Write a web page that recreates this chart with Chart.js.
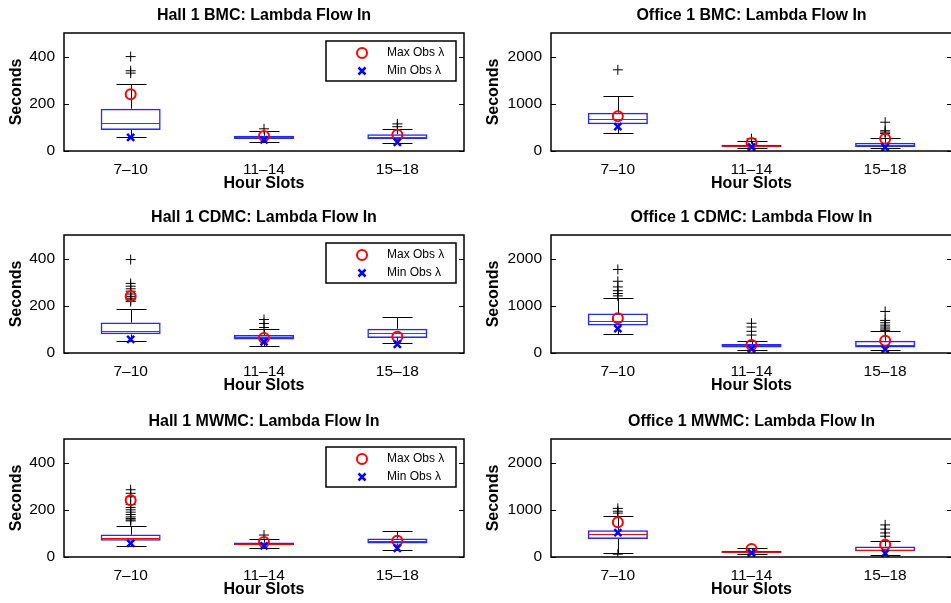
<!DOCTYPE html>
<html><head><meta charset="utf-8">
<script src="https://cdn.jsdelivr.net/npm/chart.js@4/dist/chart.umd.min.js"></script>
<style>
html,body{margin:0;padding:0;background:#fff;width:951px;height:603px;overflow:hidden;position:relative;}
canvas{position:absolute;}
</style></head><body>
<canvas id="c0"></canvas><canvas id="c1"></canvas><canvas id="c2"></canvas>
<canvas id="c3"></canvas><canvas id="c4"></canvas><canvas id="c5"></canvas>
<script>
// ---------------- data ----------------
const categories = ['7–10', '11–14', '15–18'];
const titles = [
  'Hall 1 BMC: Lambda Flow In', 'Office 1 BMC: Lambda Flow In',
  'Hall 1 CDMC: Lambda Flow In', 'Office 1 CDMC: Lambda Flow In',
  'Hall 1 MWMC: Lambda Flow In', 'Office 1 MWMC: Lambda Flow In'
];
const xTitle = 'Hour Slots';
const yTitle = 'Seconds';
const legendLabels = ['Max Obs λ', 'Min Obs λ'];
const hallTicks = [0, 200, 400];
const officeTicks = [0, 1000, 2000];
const hallMax = 500;
const officeMax = 2500;

// box statistics per panel (rows) and hour slot (columns)
const q1 = [
  [89, 51, 50], [567, 84, 84],
  [79, 57, 64], [583, 114, 114],
  [69, 50, 57], [379, 84, 120]
];
const median = [
  [120, 58, 58], [680, 109, 134],
  [95, 66, 85], [682, 162, 168],
  [81, 55, 67], [493, 113, 156]
];
const q3 = [
  [179, 65, 71], [813, 134, 176],
  [129, 76, 103], [836, 189, 261],
  [95, 61, 78], [568, 135, 225]
];
const whiskerLow = [
  [58, 39, 33], [386, 57, 57],
  [50, 28, 42], [408, 72, 63],
  [45, 37, 28], [92, 57, 50]
];
const whiskerHigh = [
  [283, 85, 93], [1155, 204, 273],
  [186, 100, 154], [1172, 261, 463],
  [133, 76, 109], [871, 189, 345]
];
const outliers = [
  [[400, 340, 330], [94], [115, 103]],
  [[1720], [260], [610, 430, 400, 370]],
  [[396, 295, 283, 272, 262, 250, 240, 232, 225, 218], [142, 125, 108], []],
  [[1770, 1520, 1400, 1320, 1260, 1210], [630, 550, 460, 380], [880, 690, 640, 590, 550, 510, 480]],
  [[285, 270, 255, 222, 210, 200, 190, 180, 170, 163, 157, 153], [93], []],
  [[1030, 970, 930, 60], [], [680, 590, 510, 440]]
];
const hallMaxObs = [240, 64, 69];
const hallMinObs = [58, 47, 37];
const officeMaxObs = [737, 170, 262];
const officeMinObs = [518, 86, 78];

// ---------------- rendering ----------------
const FONT = '"Liberation Sans", Arial, Helvetica, sans-serif';
Chart.defaults.font.family = FONT;
Chart.defaults.color = '#000';

const boxExtras = {
  id: 'boxExtras',
  beforeDatasetsDraw(chart, args, opts) {
    const p = opts.panel, ctx = chart.ctx, xs = chart.scales.x, ys = chart.scales.y;
    const meta = chart.getDatasetMeta(0);
    ctx.save();
    ctx.strokeStyle = '#000';
    ctx.lineWidth = 1;
    for (let i = 0; i < categories.length; i++) {
      const x = Math.round(xs.getPixelForValue(i)) + 0.5;
      const bw = meta.data[i].width;
      const cap = bw / 4;
      const yq1 = ys.getPixelForValue(q1[p][i]);
      const yq3 = ys.getPixelForValue(q3[p][i]);
      const ylo = Math.round(ys.getPixelForValue(whiskerLow[p][i])) + 0.5;
      const yhi = Math.round(ys.getPixelForValue(whiskerHigh[p][i])) + 0.5;
      ctx.beginPath();
      ctx.moveTo(x, yq3); ctx.lineTo(x, yhi);
      ctx.moveTo(x, yq1); ctx.lineTo(x, ylo);
      ctx.moveTo(x - cap, yhi); ctx.lineTo(x + cap, yhi);
      ctx.moveTo(x - cap, ylo); ctx.lineTo(x + cap, ylo);
      ctx.stroke();
    }
    ctx.restore();
  },
  afterDatasetDraw(chart, args, opts) {
    if (args.index !== 0) return;
    const p = opts.panel, ctx = chart.ctx, xs = chart.scales.x, ys = chart.scales.y;
    const meta = chart.getDatasetMeta(0);
    ctx.save();
    ctx.strokeStyle = '#ff0000';
    ctx.lineWidth = 1.2;
    for (let i = 0; i < categories.length; i++) {
      const x = xs.getPixelForValue(i);
      const bw = meta.data[i].width;
      const y = Math.round(ys.getPixelForValue(median[p][i])) + 0.5;
      ctx.beginPath();
      ctx.moveTo(x - bw / 2 + 1, y); ctx.lineTo(x + bw / 2 - 1, y);
      ctx.stroke();
    }
    ctx.restore();
  },
  afterDraw(chart, args, opts) {
    const ctx = chart.ctx, ca = chart.chartArea, ys = chart.scales.y;
    ctx.save();
    ctx.strokeStyle = '#000';
    ctx.lineWidth = 1;
    ctx.beginPath();
    ys.ticks.forEach(t => {
      const y = Math.round(ys.getPixelForValue(t.value)) + 0.5;
      ctx.moveTo(ca.left, y); ctx.lineTo(ca.left + 5, y);
      ctx.moveTo(ca.right - 5, y); ctx.lineTo(ca.right, y);
    });
    ctx.stroke();
    ctx.lineWidth = 1.5;
    ctx.strokeRect(ca.left, ca.top, ca.right - ca.left, ca.bottom - ca.top);
    if (opts.legend) {
      const w = 130, h = 40;
      const lx = ca.right - 8 - w, ly = ca.top + 8;
      ctx.fillStyle = '#fff';
      ctx.fillRect(lx, ly, w, h);
      ctx.strokeStyle = '#000';
      ctx.lineWidth = 1.5;
      ctx.strokeRect(lx, ly, w, h);
      const mx = lx + 36;
      ctx.strokeStyle = '#ff0000';
      ctx.lineWidth = 2;
      ctx.beginPath(); ctx.arc(mx, ly + 12, 5, 0, Math.PI * 2); ctx.stroke();
      ctx.strokeStyle = '#0000ff';
      ctx.lineWidth = 2.5;
      const d = 3.5, my = ly + 30;
      ctx.beginPath();
      ctx.moveTo(mx - d, my - d); ctx.lineTo(mx + d, my + d);
      ctx.moveTo(mx - d, my + d); ctx.lineTo(mx + d, my - d);
      ctx.stroke();
      ctx.fillStyle = '#000';
      ctx.font = '12px ' + FONT;
      ctx.textBaseline = 'middle';
      ctx.textAlign = 'left';
      ctx.fillText(legendLabels[0], lx + 61, ly + 12);
      ctx.fillText(legendLabels[1], lx + 61, ly + 30);
    }
    ctx.restore();
  }
};
Chart.register(boxExtras);

const cells = [
  {left: 0, top: 0, w: 476, h: 202}, {left: 476, top: 0, w: 476, h: 202},
  {left: 0, top: 202, w: 476, h: 204}, {left: 476, top: 202, w: 476, h: 204},
  {left: 0, top: 406, w: 476, h: 197}, {left: 476, top: 406, w: 476, h: 197}
];

cells.forEach((c, p) => {
  const col = p % 2;
  const isHall = col === 0;
  const cv = document.getElementById('c' + p);
  cv.width = c.w; cv.height = c.h;
  cv.style.left = c.left + 'px'; cv.style.top = c.top + 'px';
  cv.style.width = c.w + 'px'; cv.style.height = c.h + 'px';
  const maxObs = isHall ? hallMaxObs : officeMaxObs;
  const minObs = isHall ? hallMinObs : officeMinObs;
  const tickVals = isHall ? hallTicks : officeTicks;
  const outPts = outliers[p].flatMap((arr, i) => arr.map(v => ({x: categories[i], y: v})));
  new Chart(cv, {
    type: 'bar',
    data: {
      labels: categories,
      datasets: [
        {
          type: 'bar',
          data: categories.map((_, i) => [q1[p][i], q3[p][i]]),
          backgroundColor: 'rgba(0,0,0,0)',
          borderColor: 'rgba(0,0,255,0.85)',
          borderWidth: 1.5,
          borderSkipped: false,
          barPercentage: 0.45,
          categoryPercentage: 1,
          order: 4
        },
        {
          type: 'line', showLine: false, data: outPts,
          pointStyle: 'cross', pointRadius: 5, pointBorderWidth: 1,
          pointBorderColor: '#000', pointBackgroundColor: '#000', order: 3
        },
        {
          type: 'line', showLine: false,
          label: legendLabels[0],
          data: maxObs.map((v, i) => ({x: categories[i], y: v})),
          pointStyle: 'circle', pointRadius: 5, pointBorderWidth: 2,
          pointBorderColor: '#ff0000', pointBackgroundColor: 'rgba(0,0,0,0)', order: 2
        },
        {
          type: 'line', showLine: false,
          label: legendLabels[1],
          data: minObs.map((v, i) => ({x: categories[i], y: v})),
          pointStyle: 'crossRot', pointRadius: 5, pointBorderWidth: 2.5,
          pointBorderColor: '#0000ff', pointBackgroundColor: '#0000ff', order: 1
        }
      ]
    },
    options: {
      responsive: false,
      animation: false,
      devicePixelRatio: 1,
      events: [],
      layout: {autoPadding: false, padding: {left: 0, top: 0, right: col === 0 ? 12 : 0, bottom: c.h - 33 - 118 - 42}},
      plugins: {
        legend: {display: false},
        tooltip: {enabled: false},
        title: {
          display: true, text: titles[p], color: '#000', fullSize: false,
          font: {size: 16, weight: 'bold', family: FONT, lineHeight: 1.2},
          padding: {top: 6, bottom: 7.8}
        },
        boxExtras: {panel: p, legend: col === 0}
      },
      scales: {
        x: {
          type: 'category',
          offset: true,
          grid: {display: false, drawTicks: false},
          border: {display: false},
          ticks: {font: {size: 15.5, family: FONT}, padding: 9, maxRotation: 0, autoSkip: false, color: '#000'},
          title: {display: true, text: xTitle, color: '#000', font: {size: 16, weight: 'bold', family: FONT, lineHeight: 1.2}, padding: {top: 0, bottom: 0}},
          afterFit(scale) { scale.height = 42; scale.paddingLeft = 0; scale.paddingRight = 0; }
        },
        y: {
          type: 'linear',
          min: 0, max: isHall ? hallMax : officeMax,
          grid: {display: false, drawTicks: false},
          border: {display: false},
          afterBuildTicks(scale) { scale.ticks = tickVals.map(v => ({value: v})); },
          ticks: {font: {size: 15.5, family: FONT}, padding: 9, color: '#000', callback: v => String(v)},
          title: {display: true, text: yTitle, color: '#000', font: {size: 16, weight: 'bold', family: FONT, lineHeight: 1.2}, padding: {top: col === 0 ? 7 : 8.4, bottom: 0}},
          afterFit(scale) { scale.width = col === 0 ? 64 : 75; scale.paddingTop = 0; scale.paddingBottom = 0; }
        }
      }
    }
  });
});
</script>
</body></html>
